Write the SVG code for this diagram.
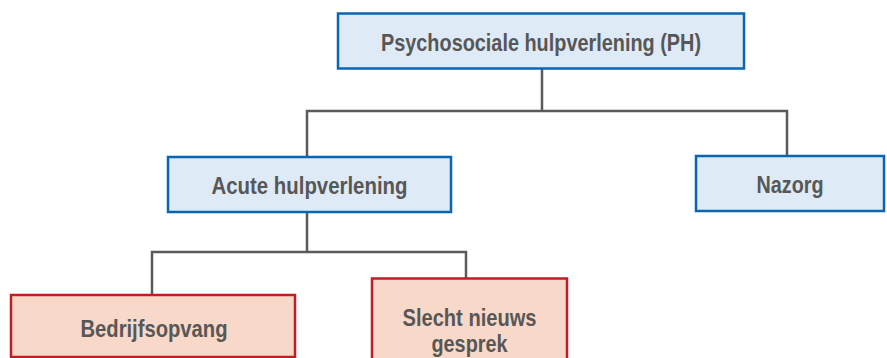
<svg xmlns="http://www.w3.org/2000/svg" width="887" height="358" viewBox="0 0 887 358">
<style>
.blue{fill:#deeaf6;stroke:#0a66b2;stroke-width:2.5}
.red{fill:#f8d8c8;stroke:#bf1e24;stroke-width:2.5}
.t{font-family:"Liberation Sans",Arial,sans-serif;font-weight:bold;font-size:24px;fill:#575757;text-anchor:middle}
.c{fill:none;stroke:#5a5a5a;stroke-width:2.5}
</style>
<rect width="887" height="358" fill="#ffffff"/>
<g id="connectors">
<path class="c" d="M542 68V111M307 157V111H787V156"/>
<path class="c" d="M307 212V252M152 295V252H466V278"/>
</g>
<g id="ph">
<rect class="blue" x="338" y="13.5" width="406" height="55"/>
<text class="t" x="541" y="50.5" textLength="320" lengthAdjust="spacingAndGlyphs">Psychosociale hulpverlening (PH)</text>
</g>
<g id="acute">
<rect class="blue" x="168" y="157" width="283" height="55"/>
<text class="t" x="309.5" y="194" textLength="196" lengthAdjust="spacingAndGlyphs">Acute hulpverlening</text>
</g>
<g id="nazorg">
<rect class="blue" x="696" y="156" width="188" height="55"/>
<text class="t" x="790" y="193" textLength="67" lengthAdjust="spacingAndGlyphs">Nazorg</text>
</g>
<g id="bedrijfsopvang">
<rect class="red" x="11" y="295" width="284" height="62"/>
<text class="t" x="154" y="336.5" textLength="147" lengthAdjust="spacingAndGlyphs">Bedrijfsopvang</text>
</g>
<g id="slechtnieuws">
<rect class="red" x="372" y="278.5" width="195" height="85"/>
<text class="t" x="469.5" y="326" textLength="134" lengthAdjust="spacingAndGlyphs">Slecht nieuws</text>
<text class="t" x="469.5" y="352" textLength="76" lengthAdjust="spacingAndGlyphs">gesprek</text>
</g>
</svg>
